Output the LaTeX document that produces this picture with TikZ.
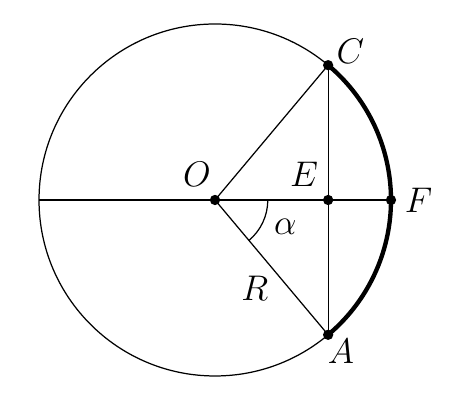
\documentclass[tikz,border=0pt]{standalone}
\usepackage{amsmath,amssymb}
\usetikzlibrary{calc}

\tikzset{
	point/.style={circle,fill=black,inner sep=0pt,minimum size=5pt},
	lettre/.style={font=\fontsize{18}{21}\selectfont,inner sep=0pt}
}

\begin{document}
\begin{tikzpicture}[line width=0.6pt]
	\useasboundingbox (-3.665,-3.648) rectangle (4.125,3.409);
	% Cercle %
	\coordinate (O) at (0,0);
	\coordinate (C) at (50:3);
	\coordinate (A) at (-50:3);
	\coordinate (F) at (3,0);
	\coordinate (G) at (-3,0);
	\coordinate (E) at ({3*cos(50)},0);
	\draw (O) circle (3);
	\draw[line width=2.1pt] (A) arc (-50:50:3);
	% Segments %
	\draw (G) -- (F);
	\draw (O) -- (C);
	\draw (O) -- (A);
	\draw (C) -- (A);
	\draw (0.9,0) arc (0:-50:0.9);
	% Points %
	\node[point] (pO) at (O) {};
	\node[point] (pE) at (E) {};
	\node[point] (pF) at (F) {};
	\node[point] (pC) at (C) {};
	\node[point] (pA) at (A) {};
	% Noms %
	\node[lettre] (lO) at (-0.31,0.43) {$O$};
	\node[lettre] (lE) at ($(E)+(-0.41,0.43)$) {$E$};
	\node[lettre] (lF) at (3.47,0) {$F$};
	\node[lettre] (lC) at ($(C)+(0.38,0.24)$) {$C$};
	\node[lettre] (lA) at ($(A)+(0.22,-0.28)$) {$A$};
	\node[lettre] (la) at (1.2,-0.45) {$\alpha$};
	\node[lettre] (lR) at (0.68,-1.5) {$R$};
\end{tikzpicture}
\end{document}
